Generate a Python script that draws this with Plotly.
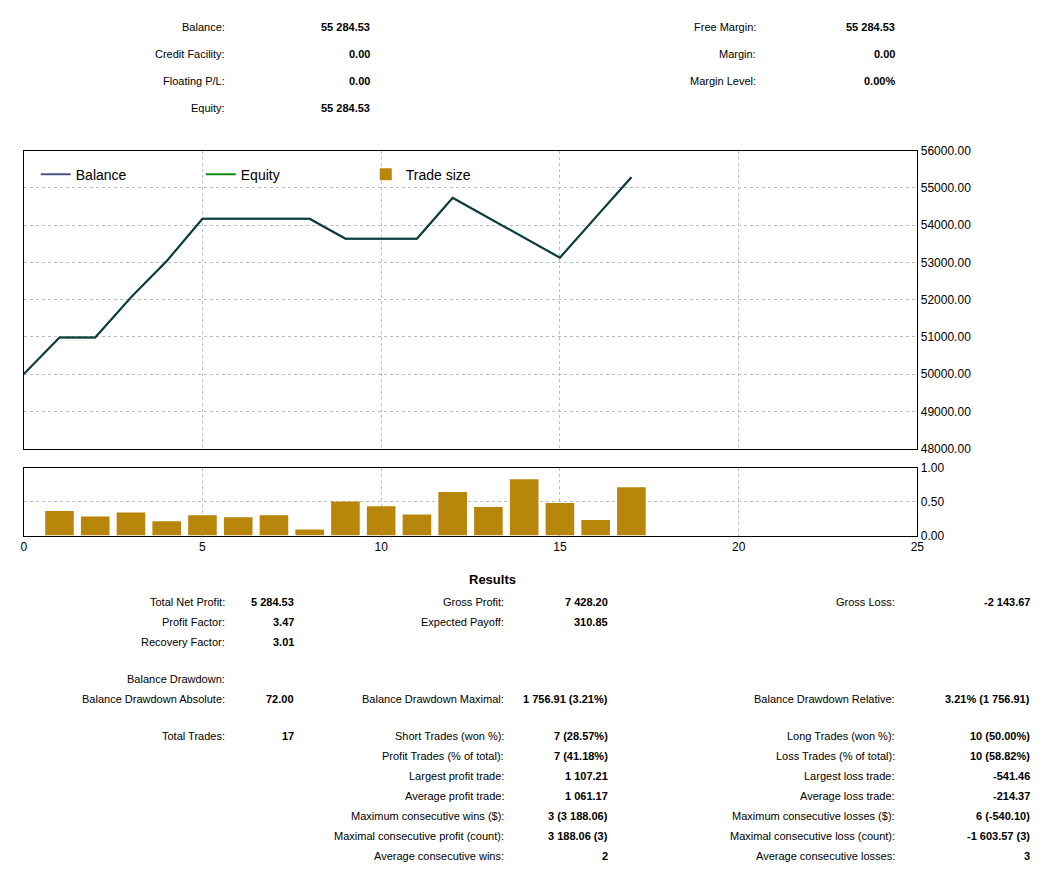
import plotly.graph_objects as go

# balance curve, one point per closed trade
trade_no = list(range(18))
balance = [50000.00, 50982, 50982, 52060, 53035, 54170, 54170, 54170, 54170,
           53634, 53634, 53634, 54732, 54197, 53660, 53125, 54205, 55284.53]
equity = balance

bar_x = list(range(1, 18))
trade_size = [0.36, 0.28, 0.34, 0.21, 0.30, 0.27, 0.30, 0.09, 0.50,
              0.43, 0.31, 0.64, 0.42, 0.83, 0.48, 0.23, 0.71]

top_rows = [
    ("Balance:", "55 284.53", "Free Margin:", "55 284.53"),
    ("Credit Facility:", "0.00", "Margin:", "0.00"),
    ("Floating P/L:", "0.00", "Margin Level:", "0.00%"),
    ("Equity:", "55 284.53", "", ""),
]
top_y = [26, 53, 80, 107]

results = [
    (601, ["Total Net Profit:", "5 284.53", "Gross Profit:", "7 428.20", "Gross Loss:", "-2 143.67"]),
    (621, ["Profit Factor:", "3.47", "Expected Payoff:", "310.85", "", ""]),
    (641, ["Recovery Factor:", "3.01", "", "", "", ""]),
    (678, ["Balance Drawdown:", "", "", "", "", ""]),
    (698, ["Balance Drawdown Absolute:", "72.00", "Balance Drawdown Maximal:", "1 756.91 (3.21%)",
           "Balance Drawdown Relative:", "3.21% (1 756.91)"]),
    (735, ["Total Trades:", "17", "Short Trades (won %):", "7 (28.57%)", "Long Trades (won %):", "10 (50.00%)"]),
    (755, ["", "", "Profit Trades (% of total):", "7 (41.18%)", "Loss Trades (% of total):", "10 (58.82%)"]),
    (775, ["", "", "Largest profit trade:", "1 107.21", "Largest loss trade:", "-541.46"]),
    (795, ["", "", "Average profit trade:", "1 061.17", "Average loss trade:", "-214.37"]),
    (815, ["", "", "Maximum consecutive wins ($):", "3 (3 188.06)", "Maximum consecutive losses ($):", "6 (-540.10)"]),
    (835, ["", "", "Maximal consecutive profit (count):", "3 188.06 (3)", "Maximal consecutive loss (count):", "-1 603.57 (3)"]),
    (855, ["", "", "Average consecutive wins:", "2", "Average consecutive losses:", "3"]),
]

W, H = 1064, 872
FONT = "Liberation Sans"


# correction for the offset seen in the rendered page
def px(x):
    return (x - 11.3) / 0.9877 / W


def py(y):
    return 1 - (y - 14.4) / 0.984 / H


fig = go.Figure()
fig.add_trace(go.Scatter(x=trade_no, y=equity, mode="lines", name="Equity", legendrank=2,
                         line=dict(color="#138a13", width=2), xaxis="x", yaxis="y"))
fig.add_trace(go.Scatter(x=trade_no, y=balance, mode="lines", name="Balance", legendrank=1,
                         line=dict(color="rgba(15,30,90,0.75)", width=2), xaxis="x", yaxis="y"))
fig.add_trace(go.Bar(x=bar_x, y=trade_size, name="Trade size", width=0.8, legendrank=3,
                     marker=dict(color="#b8860b", line=dict(width=0)), xaxis="x2", yaxis="y2"))

annotations = []


def txt(x, y, s, bold=False, size=11):
    if not s:
        return
    annotations.append(dict(text=f"<b>{s}</b>" if bold else s, x=px(x), y=py(y), xref="paper", yref="paper",
                            xanchor="right", yanchor="middle", showarrow=False,
                            font=dict(family=FONT, size=size, color="black")))


for (l1, v1, l2, v2), y in zip(top_rows, top_y):
    txt(227, y, l1)
    txt(371, y, v1, True)
    txt(756, y, l2)
    txt(895, y, v2, True)

annotations.append(dict(text="<b>Results</b>", x=px(491), y=py(579), xref="paper", yref="paper",
                        showarrow=False, font=dict(family=FONT, size=13, color="black")))
cols = [227, 295, 505, 609, 895, 1029]
for y, cells in results:
    for i, s in enumerate(cells):
        txt(cols[i], y, s, bold=(i % 2 == 1))

axis_common = dict(showline=True, linecolor="black", linewidth=1, mirror=True,
                   gridcolor="#bdbdbd", griddash="dot", zeroline=False,
                   tickfont=dict(family=FONT, size=12, color="black"))

fig.update_layout(
    width=W, height=H, margin=dict(l=0, r=0, t=0, b=0),
    paper_bgcolor="white", plot_bgcolor="white",
    font=dict(family=FONT, size=12, color="black"),
    showlegend=True,
    legend=dict(orientation="h", x=px(36), y=py(158), xanchor="left", yanchor="top",
                bgcolor="rgba(0,0,0,0)", font=dict(family=FONT, size=14),
                traceorder="normal", entrywidth=120),
    xaxis=dict(domain=[px(24), px(915)], range=[0, 25], dtick=5, showticklabels=False,
               anchor="y", **axis_common),
    yaxis=dict(domain=[py(448), py(150)], range=[48000, 56000], dtick=1000, side="right",
               tickformat=".2f", anchor="x", **axis_common),
    xaxis2=dict(domain=[px(24), px(915)], range=[0, 25], dtick=5, anchor="y2", **axis_common),
    yaxis2=dict(domain=[py(535), py(467)], range=[0, 1], dtick=0.5, side="right",
                tickformat=".2f", anchor="x2", **axis_common),
    annotations=annotations,
    bargap=0.2,
)

fig.write_html("out.html")
